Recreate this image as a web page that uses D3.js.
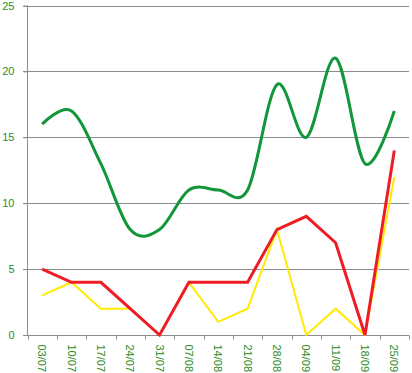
<!DOCTYPE html>
<html>
<head>
<meta charset="utf-8">
<script src="https://cdn.jsdelivr.net/npm/d3@7"></script>
<style>
  body { margin: 0; background: #fff; }
  svg text { font-family: "Liberation Sans", Arial, sans-serif; font-size: 11px; }
</style>
</head>
<body>
<script>
// chart data
var dates = ["03/07", "10/07", "17/07", "24/07", "31/07", "07/08", "14/08",
	"21/08", "28/08", "04/09", "11/09", "18/09", "25/09"];
var greenValues = [16, 17, 13, 8, 8, 11, 11, 11, 19, 15, 21, 13, 17];
var redValues = [5, 4, 4, 2, 0, 4, 4, 4, 8, 9, 7, 0, 14];
var yellowValues = [3, 4, 2, 2, 0, 4, 1, 2, 8, 0, 2, 0, 12];
var yTicks = [0, 5, 10, 15, 20, 25];

var width = 412,
	height = 373;

var svg = d3.select("body").append("svg")
	.attr("width", width)
	.attr("height", height);

var x = d3.scaleBand()
	.domain(dates)
	.range([27.5, 409]);

var y = d3.scaleLinear()
	.domain([0, 25])
	.range([335, 5.5]);

// gridlines
svg.append("g")
	.selectAll("line")
	.data(yTicks.slice(1))
	.enter()
	.append("line")
	.attr("x1", 23)
	.attr("x2", 409)
	.attr("y1", function(d) { return Math.round(y(d)) + 0.5; })
	.attr("y2", function(d) { return Math.round(y(d)) + 0.5; })
	.attr("stroke", "#8c8c8c");

// y axis
var yAxis = d3.axisLeft(y).tickValues(yTicks).tickSize(4).tickPadding(9);
var yG = svg.append("g")
	.attr("transform", "translate(27.5,0)")
	.call(yAxis);
yG.select(".domain").attr("stroke", "#8c8c8c").attr("d", "M0," + y(25) + "V" + y(0));
yG.selectAll(".tick line").attr("stroke", "#8c8c8c");
yG.selectAll(".tick text")
	.attr("fill", "#2e8b1e")
	.style("font-size", "11px");

// x axis (ticks on band boundaries)
var xG = svg.append("g")
	.attr("transform", "translate(0," + (Math.round(y(0)) + 0.5) + ")");
xG.append("line")
	.attr("x1", 23)
	.attr("x2", 409)
	.attr("stroke", "#8c8c8c");
var bounds = dates.map(function(d) { return x(d); }).concat([x.range()[1]]);
xG.selectAll(".xtick")
	.data(bounds)
	.enter()
	.append("line")
	.attr("class", "xtick")
	.attr("x1", function(d) { return Math.round(d) + 0.5; })
	.attr("x2", function(d) { return Math.round(d) + 0.5; })
	.attr("y1", 0)
	.attr("y2", 4)
	.attr("stroke", "#8c8c8c");
xG.selectAll(".xlabel")
	.data(dates)
	.enter()
	.append("text")
	.attr("class", "xlabel")
	.attr("transform", function(d) {
		return "translate(" + (x(d) + x.bandwidth() / 2 - 4) + ",9) rotate(90)";
	})
	.attr("text-anchor", "start")
	.attr("fill", "#2e8b1e")
	.text(function(d) { return d; });

var cx = function(d, i) { return x(dates[i]) + x.bandwidth() / 2; };

var smoothLine = d3.line()
	.x(cx)
	.y(function(d) { return y(d); })
	.curve(d3.curveCatmullRom.alpha(0));

var straightLine = d3.line()
	.x(cx)
	.y(function(d) { return y(d); });

svg.append("path")
	.datum(yellowValues)
	.attr("d", straightLine)
	.attr("fill", "none")
	.attr("stroke", "#ffea00")
	.attr("stroke-width", 2);

svg.append("path")
	.datum(redValues)
	.attr("d", straightLine)
	.attr("fill", "none")
	.attr("stroke", "#ee1c24")
	.attr("stroke-width", 3);

svg.append("path")
	.datum(greenValues)
	.attr("d", smoothLine)
	.attr("fill", "none")
	.attr("stroke", "#12963a")
	.attr("stroke-width", 3);
</script>
</body>
</html>
